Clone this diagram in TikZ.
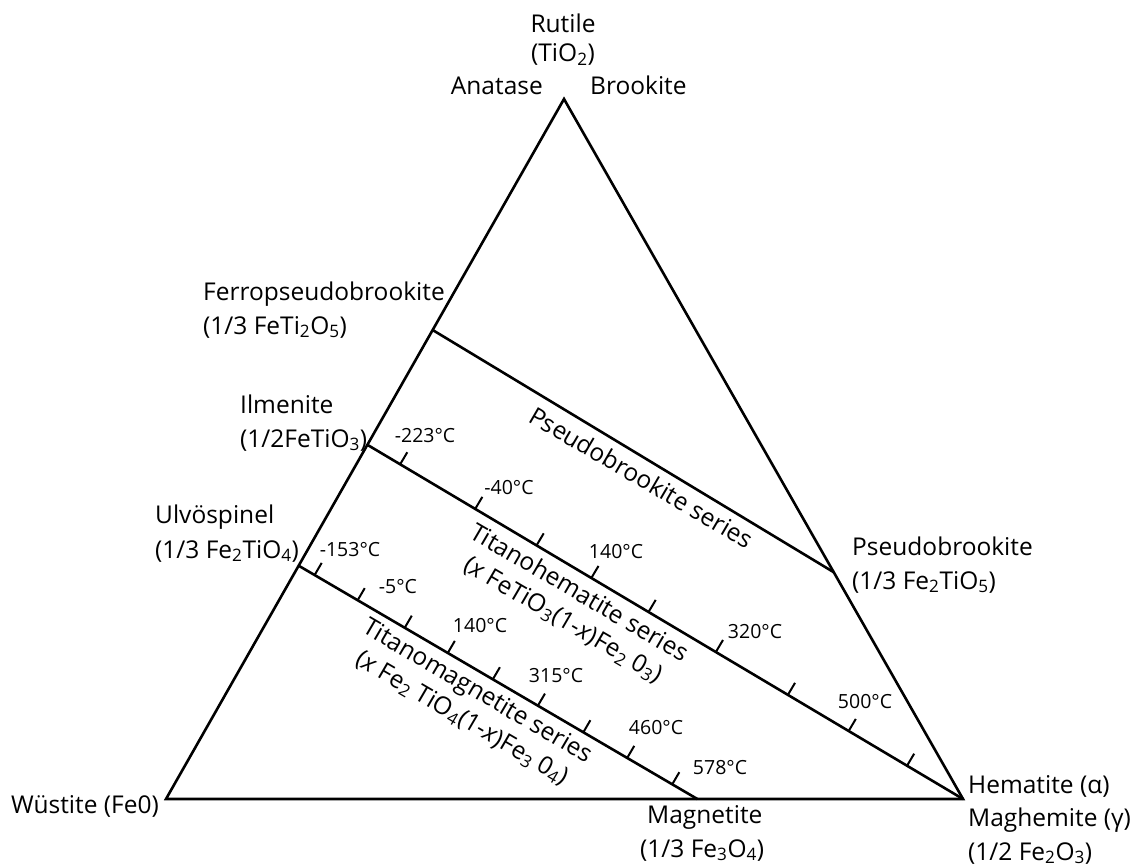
\documentclass[tikz,border=0pt]{standalone}
\usepackage{fontspec}
\setmainfont{Open Sans}
\usetikzlibrary{calc}
\newcommand\sbs[1]{\textsubscript{#1}}
\begin{document}
\begin{tikzpicture}[x=1pt,y=-1pt,
  edge/.style={line width=2.6pt, line join=miter},
  tickmark/.style={line width=2pt},
  lab/.style={inner sep=0pt, font=\fontsize{24.5}{30}\selectfont},
  temp/.style={inner sep=0pt, font=\fontsize{19.5}{23}\selectfont},
  series/.style={inner sep=0pt, align=center, rotate=-30.3, font=\fontsize{24.5}{31}\selectfont}]
\useasboundingbox (0,0) rectangle (1145,867);
\coordinate (T) at (564,99);
\coordinate (W) at (166,799);
\coordinate (H) at (963,799);
\coordinate (FP) at ($(W)!0.67!(T)$);
\coordinate (IL) at ($(W)!0.506!(T)$);
\coordinate (UL) at ($(W)!0.3333!(T)$);
\coordinate (PB) at ($(H)!0.324!(T)$);
\coordinate (MG) at ($(W)!0.6667!(H)$);
\draw[edge] (W) -- (T) -- (H) -- cycle;
\draw[edge] (FP) -- (PB);
\draw[edge] (IL) -- (H);
\draw[edge] (UL) -- (MG);
\foreach \t in {0.055,0.181,0.284,0.376,0.472,0.585,0.706,0.808,0.906}
  \draw[tickmark] ($(IL)!\t!(H)$) -- ($(IL)!\t!(H)!14pt!90:(H)$);
\foreach \t in {0.040,0.148,0.266,0.374,0.487,0.600,0.714,0.824,0.937}
  \draw[tickmark] ($(UL)!\t!(MG)$) -- ($(UL)!\t!(MG)!14pt!90:(MG)$);
% vertex and phase labels
\node[lab, anchor=base] (rut) at (563,33) {Rutile};
\node[lab, anchor=base] (tio) at (563,62) {(TiO\sbs{2})};
\node[lab, anchor=base east] (ana) at (543,94) {Anatase};
\node[lab, anchor=base west] (bro) at (590,94) {Brookite};
\node[lab, anchor=base west] (fpb1) at (203,300) {Ferropseudobrookite};
\node[lab, anchor=base west] (fpb2) at (203,334) {(1/3 FeTi\sbs{2}O\sbs{5})};
\node[lab, anchor=base west] (ilm1) at (240,413) {Ilmenite};
\node[lab, anchor=base west] (ilm2) at (240,447) {(1/2FeTiO\sbs{3})};
\node[lab, anchor=base west] (ulv1) at (155,523) {Ulvöspinel};
\node[lab, anchor=base west] (ulv2) at (155,558) {(1/3 Fe\sbs{2}TiO\sbs{4})};
\node[lab, anchor=base west] (pb1) at (852,555) {Pseudobrookite};
\node[lab, anchor=base west] (pb2) at (852,589) {(1/3 Fe\sbs{2}TiO\sbs{5})};
\node[lab, anchor=base west] (hem) at (968,793) {Hematite (α)};
\node[lab, anchor=base west] (mgh) at (968,826) {Maghemite (γ)};
\node[lab, anchor=base west] (hfo) at (968,860) {(1/2 Fe\sbs{2}O\sbs{3})};
\node[lab, anchor=base east] (wus) at (159,813) {Wüstite (Fe0)};
\node[lab, anchor=base west] (mag1) at (647,823) {Magnetite};
\node[lab, anchor=base west] (mag2) at (640,857) {(1/3 Fe\sbs{3}O\sbs{4})};
% temperatures
\node[temp] (th1) at (425,436) {-223°C};
\node[temp] (th2) at (509,488) {-40°C};
\node[temp] (th3) at (616,552) {140°C};
\node[temp] (th4) at (755,632) {320°C};
\node[temp] (th5) at (865,702) {500°C};
\node[temp] (tm1) at (350,550) {-153°C};
\node[temp] (tm2) at (398,587) {-5°C};
\node[temp] (tm3) at (480,626) {140°C};
\node[temp] (tm4) at (556,676) {315°C};
\node[temp] (tm5) at (656,728) {460°C};
\node[temp] (tm6) at (720,768) {578°C};
% series labels
\node[series] (psl) at ($(FP)!0.544!(PB)!18pt!-90:(PB)$) {Pseudobrookite series};
\node[series] (thl) at ($(IL)!0.372!(H)!35pt!-90:(H)$) {Titanohematite series\\(\textit{x} FeTiO\sbs{3}(1-\textit{x})Fe\sbs{2} 0\sbs{3})};
\node[series] (tml) at ($(UL)!0.472!(MG)!34pt!-90:(MG)$) {Titanomagnetite series\\(\textit{x} Fe\sbs{2} TiO\sbs{4}(1-\textit{x})Fe\sbs{3} 0\sbs{4})};
\end{tikzpicture}
\end{document}
